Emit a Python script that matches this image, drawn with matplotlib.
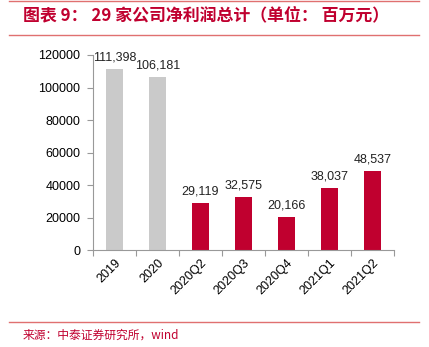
import matplotlib
matplotlib.use("Agg")
import matplotlib.pyplot as plt
from matplotlib.lines import Line2D

plt.rcParams['font.family'] = ['Liberation Sans', 'Noto Sans CJK SC', 'DejaVu Sans']

categories = ['2019', '2020', '2020Q2', '2020Q3', '2020Q4', '2021Q1', '2021Q2']
values = [111398, 106181, 29119, 32575, 20166, 38037, 48537]
colors = ['#CACACA', '#CACACA', '#C0002F', '#C0002F', '#C0002F', '#C0002F', '#C0002F']

red = '#C0002F'
line_red = '#E07070'

fig = plt.figure(figsize=(4.29, 3.47), dpi=100)
ax = fig.add_axes([0.2168, 0.2795, 0.7016, 0.562])

x = range(len(categories))
bars = ax.bar(x, values, width=0.38, color=colors)
for xi, v in zip(x, values):
    ax.annotate(f'{v:,}', (xi, v), xytext=(0, 4), textcoords='offset points',
                ha='center', va='bottom', fontsize=9, color='#222222')

ax.set_xlim(-0.5, len(categories) - 0.5)
ax.set_ylim(0, 120000)
ax.set_yticks(range(0, 120001, 20000))
ax.set_yticklabels([str(t) for t in range(0, 120001, 20000)], fontsize=9)
ax.set_xticks([i - 0.5 for i in range(len(categories) + 1)], minor=False)
ax.set_xticklabels([''] * (len(categories) + 1))
ax.set_xticks(list(x), minor=True)
ax.set_xticklabels(categories, minor=True, rotation=45, ha='right', rotation_mode='anchor', fontsize=9)
ax.tick_params(axis='x', which='minor', length=0, pad=5)
ax.tick_params(axis='x', which='major', length=4, color='#999999')
ax.tick_params(axis='y', length=4, color='#999999', pad=5)
for s in ['top', 'right']:
    ax.spines[s].set_visible(False)
for s in ['left', 'bottom']:
    ax.spines[s].set_color('#999999')
    ax.spines[s].set_linewidth(0.8)

# header / footer
for yy in [1 - 1/347, 1 - 35/347, 1 - 322/347]:
    fig.add_artist(Line2D([9/429, 419/429], [yy, yy], color=line_red, lw=1))
fig.text(23/429, 1 - 15/347, '图表 9： 29 家公司净利润总计（单位： 百万元）', fontsize=12.2,
         color=red, fontweight='bold', style='italic', va='center',
         family=['Noto Sans CJK SC', 'DejaVu Sans'])
fig.text(23/429, 1 - 335/347, '来源：中泰证券研究所，wind', fontsize=8.5,
         color=red, va='center', family=['Noto Sans CJK SC', 'DejaVu Sans'])

fig.savefig('out.png', dpi=100)
